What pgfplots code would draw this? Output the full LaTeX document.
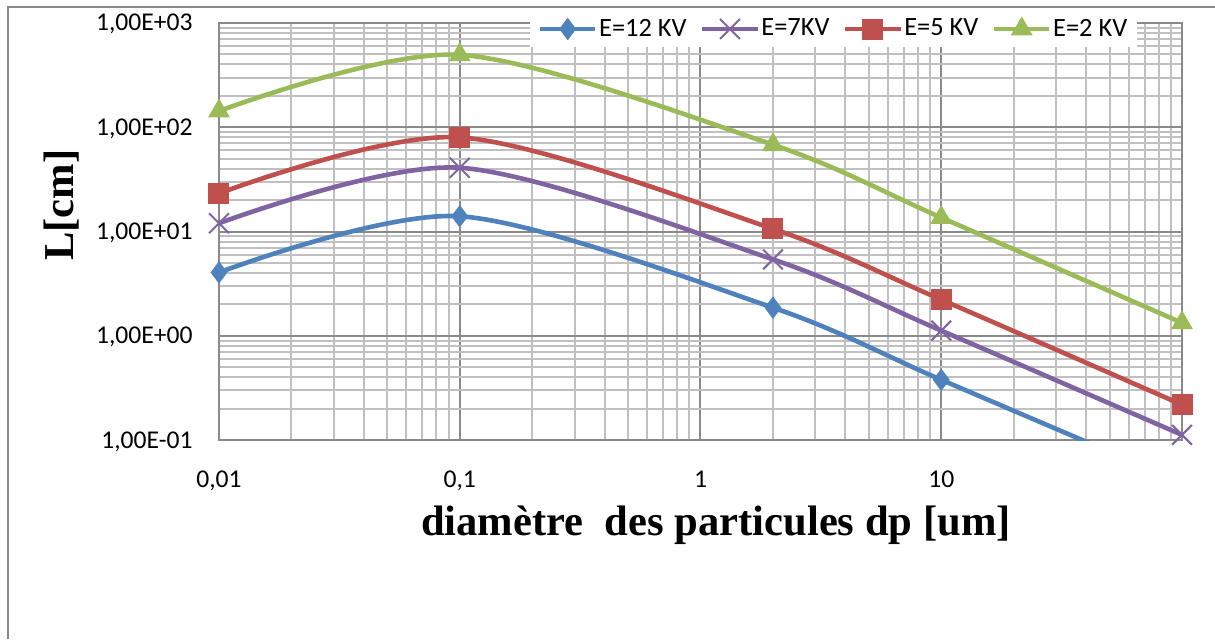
\documentclass[border=0pt]{standalone}
\usepackage{pgfplots}
\pgfplotsset{compat=1.18}
\usepackage{fontspec}
\setmainfont{Liberation Serif}
\newfontfamily\calib{Carlito}
\definecolor{cBlue}{HTML}{4F81BD}
\definecolor{cPurple}{HTML}{8064A2}
\definecolor{cRed}{HTML}{C0504D}
\definecolor{cGreen}{HTML}{9BBB59}
\definecolor{majGray}{HTML}{8A8A8A}
\definecolor{minGray}{HTML}{C0C0C0}
\pgfplotsset{
  bluelegend/.style={legend image code/.code={\draw[##1,mark indices={2}] plot coordinates {(0pt,0pt) (13.75pt,0pt) (27.5pt,0pt)};}},
}
\begin{document}
\begin{tikzpicture}
\useasboundingbox (0,0) rectangle (607.5pt,319.5pt);
\draw[color=majGray, line width=0.9pt] (4pt,0pt) -- (4pt,316pt) -- (607.5pt,316pt);
\begin{axis}[
  at={(109.5pt,99.5pt)}, anchor=south west,
  scale only axis, width=481.5pt, height=208.5pt,
  xmode=log, ymode=log,
  xmin=0.01, xmax=100, ymin=0.1, ymax=1000,
  xtick={0.01,0.1,1,10},
  xticklabels={{0,01},{0,1},{1},{10}},
  minor xtick={0.02,0.03,0.04,0.05,0.06,0.07,0.08,0.09,0.2,0.3,0.4,0.5,0.6,0.7,0.8,0.9,2,3,4,5,6,7,8,9,20,30,40,50,60,70,80,90},
  ytick={0.1,1,10,100,1000},
  yticklabels={{1,00E-01},{1,00E+00},{1,00E+01},{1,00E+02},{1,00E+03}},
  minor ytick={0.2,0.3,0.4,0.5,0.6,0.7,0.8,0.9,2,3,4,5,6,7,8,9,20,30,40,50,60,70,80,90,200,300,400,500,600,700,800,900},
  grid=both,
  major grid style={color=majGray, line width=1pt},
  minor grid style={color=minGray, line width=1pt},
  major tick length=0pt, minor tick length=0pt,
  axis line style={color=majGray, line width=1pt},
  ticklabel style={font=\calib\fontsize{12.8}{15}\selectfont, inner sep=0pt},
  xticklabel style={anchor=base, yshift=-23.5pt},
  yticklabel style={anchor=base east, xshift=-13pt, yshift=-4pt},
  xlabel={diamètre\ \ des particules dp [um]},
  xlabel style={at={(axis description cs:0.516,-0.228)}, anchor=base, inner sep=0pt,
    font=\fontsize{21.3}{25}\selectfont\bfseries},
  ylabel={L[cm]},
  ylabel style={at={(axis description cs:-0.1635,0.5635)}, anchor=center, inner sep=0pt,
    font=\fontsize{21.3}{25}\selectfont\bfseries},
  legend columns=4,
  legend style={at={(axis description cs:0.638,0.9856)}, anchor=center,
    draw=none, fill=white, inner xsep=4pt, inner ysep=3pt,
    font=\calib\fontsize{13.2}{15}\selectfont,
    nodes={inner sep=0.8pt},
    /tikz/every even column/.append style={column sep=6pt}},
  legend image code/.code={\draw[mark repeat=2,mark phase=2,#1] plot coordinates {(0pt,0pt) (13.75pt,0pt) (27.5pt,0pt)};},
  every axis plot/.append style={line width=2.3pt, smooth},
]
\addplot[color=cBlue, mark=diamond*, mark size=5.2pt, mark options={line width=0.5pt}, mark indices={1,2,3,4}, bluelegend]
  coordinates {(0.01,4.05) (0.1,14.0) (2,1.86) (10,0.378) (100,0.039)};
\addlegendentry{E=12 KV}
\addplot[color=cPurple, mark=x, mark size=7pt, mark options={line width=1pt}]
  coordinates {(0.01,12.0) (0.1,40.9) (2,5.4) (10,1.12) (100,0.112)};
\addlegendentry{E=7KV}
\addplot[color=cRed, mark=square*, mark size=5pt, mark options={line width=0.5pt}]
  coordinates {(0.01,23.2) (0.1,80) (2,10.6) (10,2.22) (100,0.218)};
\addlegendentry{E=5 KV}
\addplot[color=cGreen, mark=triangle*, mark size=5.8pt, mark options={line width=0.5pt}]
  coordinates {(0.01,143) (0.1,495) (2,68) (10,13.6) (100,1.33)};
\addlegendentry{E=2 KV}
\end{axis}
\end{tikzpicture}
\end{document}
